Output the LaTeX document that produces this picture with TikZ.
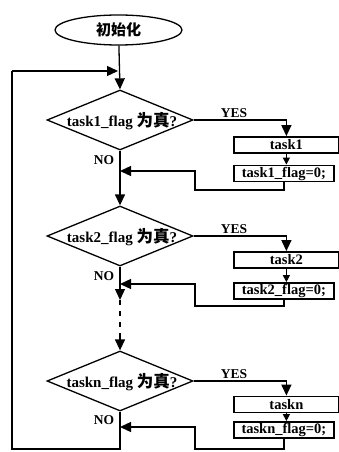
\documentclass[tikz,border=0pt]{standalone}
\usepackage{fontspec}
\setmainfont{Liberation Serif}
\newfontfamily\cjk{Noto Sans CJK SC}
\usetikzlibrary{shapes.geometric,arrows.meta}
\begin{document}
\begin{tikzpicture}[x=1pt,y=-1pt,
  line width=1.3pt,
  arr/.style={-{Triangle[width=10pt,length=11pt]}},
  sarr/.style={-{Triangle[width=7pt,length=7pt]}},
  dia/.style={draw,diamond,inner sep=0pt,minimum width=146pt,minimum height=60pt},
  dtext/.style={inner sep=0pt,font=\fontsize{15}{17}\selectfont\bfseries},
  tbox/.style={draw,line width=1.8pt,rectangle,inner sep=0pt,anchor=west,minimum height=16pt,font=\fontsize{14.5}{16}\selectfont\bfseries},
  lbl/.style={inner sep=0pt,font=\fontsize{13.5}{15}\selectfont\bfseries}]
\useasboundingbox (0,0) rectangle (339,452);
% start
\node[draw,ellipse,minimum width=127pt,minimum height=30pt,inner sep=0pt] (init) at (118.5,30) {{\cjk\fontsize{15}{16}\selectfont\bfseries 初始化}};
% decisions
\node[dia] (d1) at (120,120) {};
\node[dia] (d2) at (120,236) {};
\node[dia] (dn) at (120,381) {};
\node[dtext] (d1t) at (122,121) {task1\_flag {\cjk\fontsize{16.5}{18}\selectfont 为真}?};
\node[dtext] (d2t) at (122,237) {task2\_flag {\cjk\fontsize{16.5}{18}\selectfont 为真}?};
\node[dtext] (dnt) at (122,382) {taskn\_flag {\cjk\fontsize{16.5}{18}\selectfont 为真}?};
% task boxes
\node[tbox,minimum width=105pt] (t1) at (233,145) {task1};
\node[tbox,minimum width=100pt] (f1) at (233,173.5) {task1\_flag=0;};
\node[tbox,minimum width=105pt] (t2) at (233,260) {task2};
\node[tbox,minimum width=100pt] (f2) at (233,291) {task2\_flag=0;};
\node[tbox,minimum width=105pt] (tn) at (233,404.5) {taskn};
\node[tbox,minimum width=100pt] (fn) at (233,430) {taskn\_flag=0;};
% labels
\node[lbl] (y1) at (234,113) {YES};
\node[lbl] (y2) at (234,229) {YES};
\node[lbl] (yn) at (234,374) {YES};
\node[lbl] (n1) at (104,160) {NO};
\node[lbl] (n2) at (104,276) {NO};
\node[lbl] (nn) at (104,420) {NO};
% coordinates
\coordinate (top) at (118,71);
\coordinate (m1) at (120,171);
\coordinate (m2) at (120,284);
\coordinate (mn) at (120,427);
\coordinate (r1) at (195,190);
\coordinate (r2) at (195,306);
\coordinate (rn) at (195,449);
\coordinate (a2) at (120,300);
\coordinate (de) at (120,337);
\coordinate (bot) at (120,449);
\coordinate (lb) at (12,449);
\coordinate (lt) at (12,71);
% main flow
\draw[arr] (init) -- (d1.north);
\draw[arr] (d1.south) -- (d2.north);
\draw[arr] (d2.south) -- (a2);
\draw[dash pattern=on 5pt off 6pt] (a2) -- (de);
\draw[arr] (de) -- (dn.north);
\draw (dn.south) -- (bot) -- (lb) -- (lt);
\draw[arr] (lt) -- (top);
% yes branches
\draw[arr] (d1.east) -| (t1.north);
\draw[sarr] (t1.south) -- (t1.south |- f1.north);
\draw[arr] (f1.south) |- (r1) |- (m1);
\draw[arr] (d2.east) -| (t2.north);
\draw[sarr] (t2.south) -- (t2.south |- f2.north);
\draw[arr] (f2.south) |- (r2) |- (m2);
\draw[arr] (dn.east) -| (tn.north);
\draw[sarr] (tn.south) -- (tn.south |- fn.north);
\draw[arr] (fn.south) |- (rn) |- (mn);
\end{tikzpicture}
\end{document}
